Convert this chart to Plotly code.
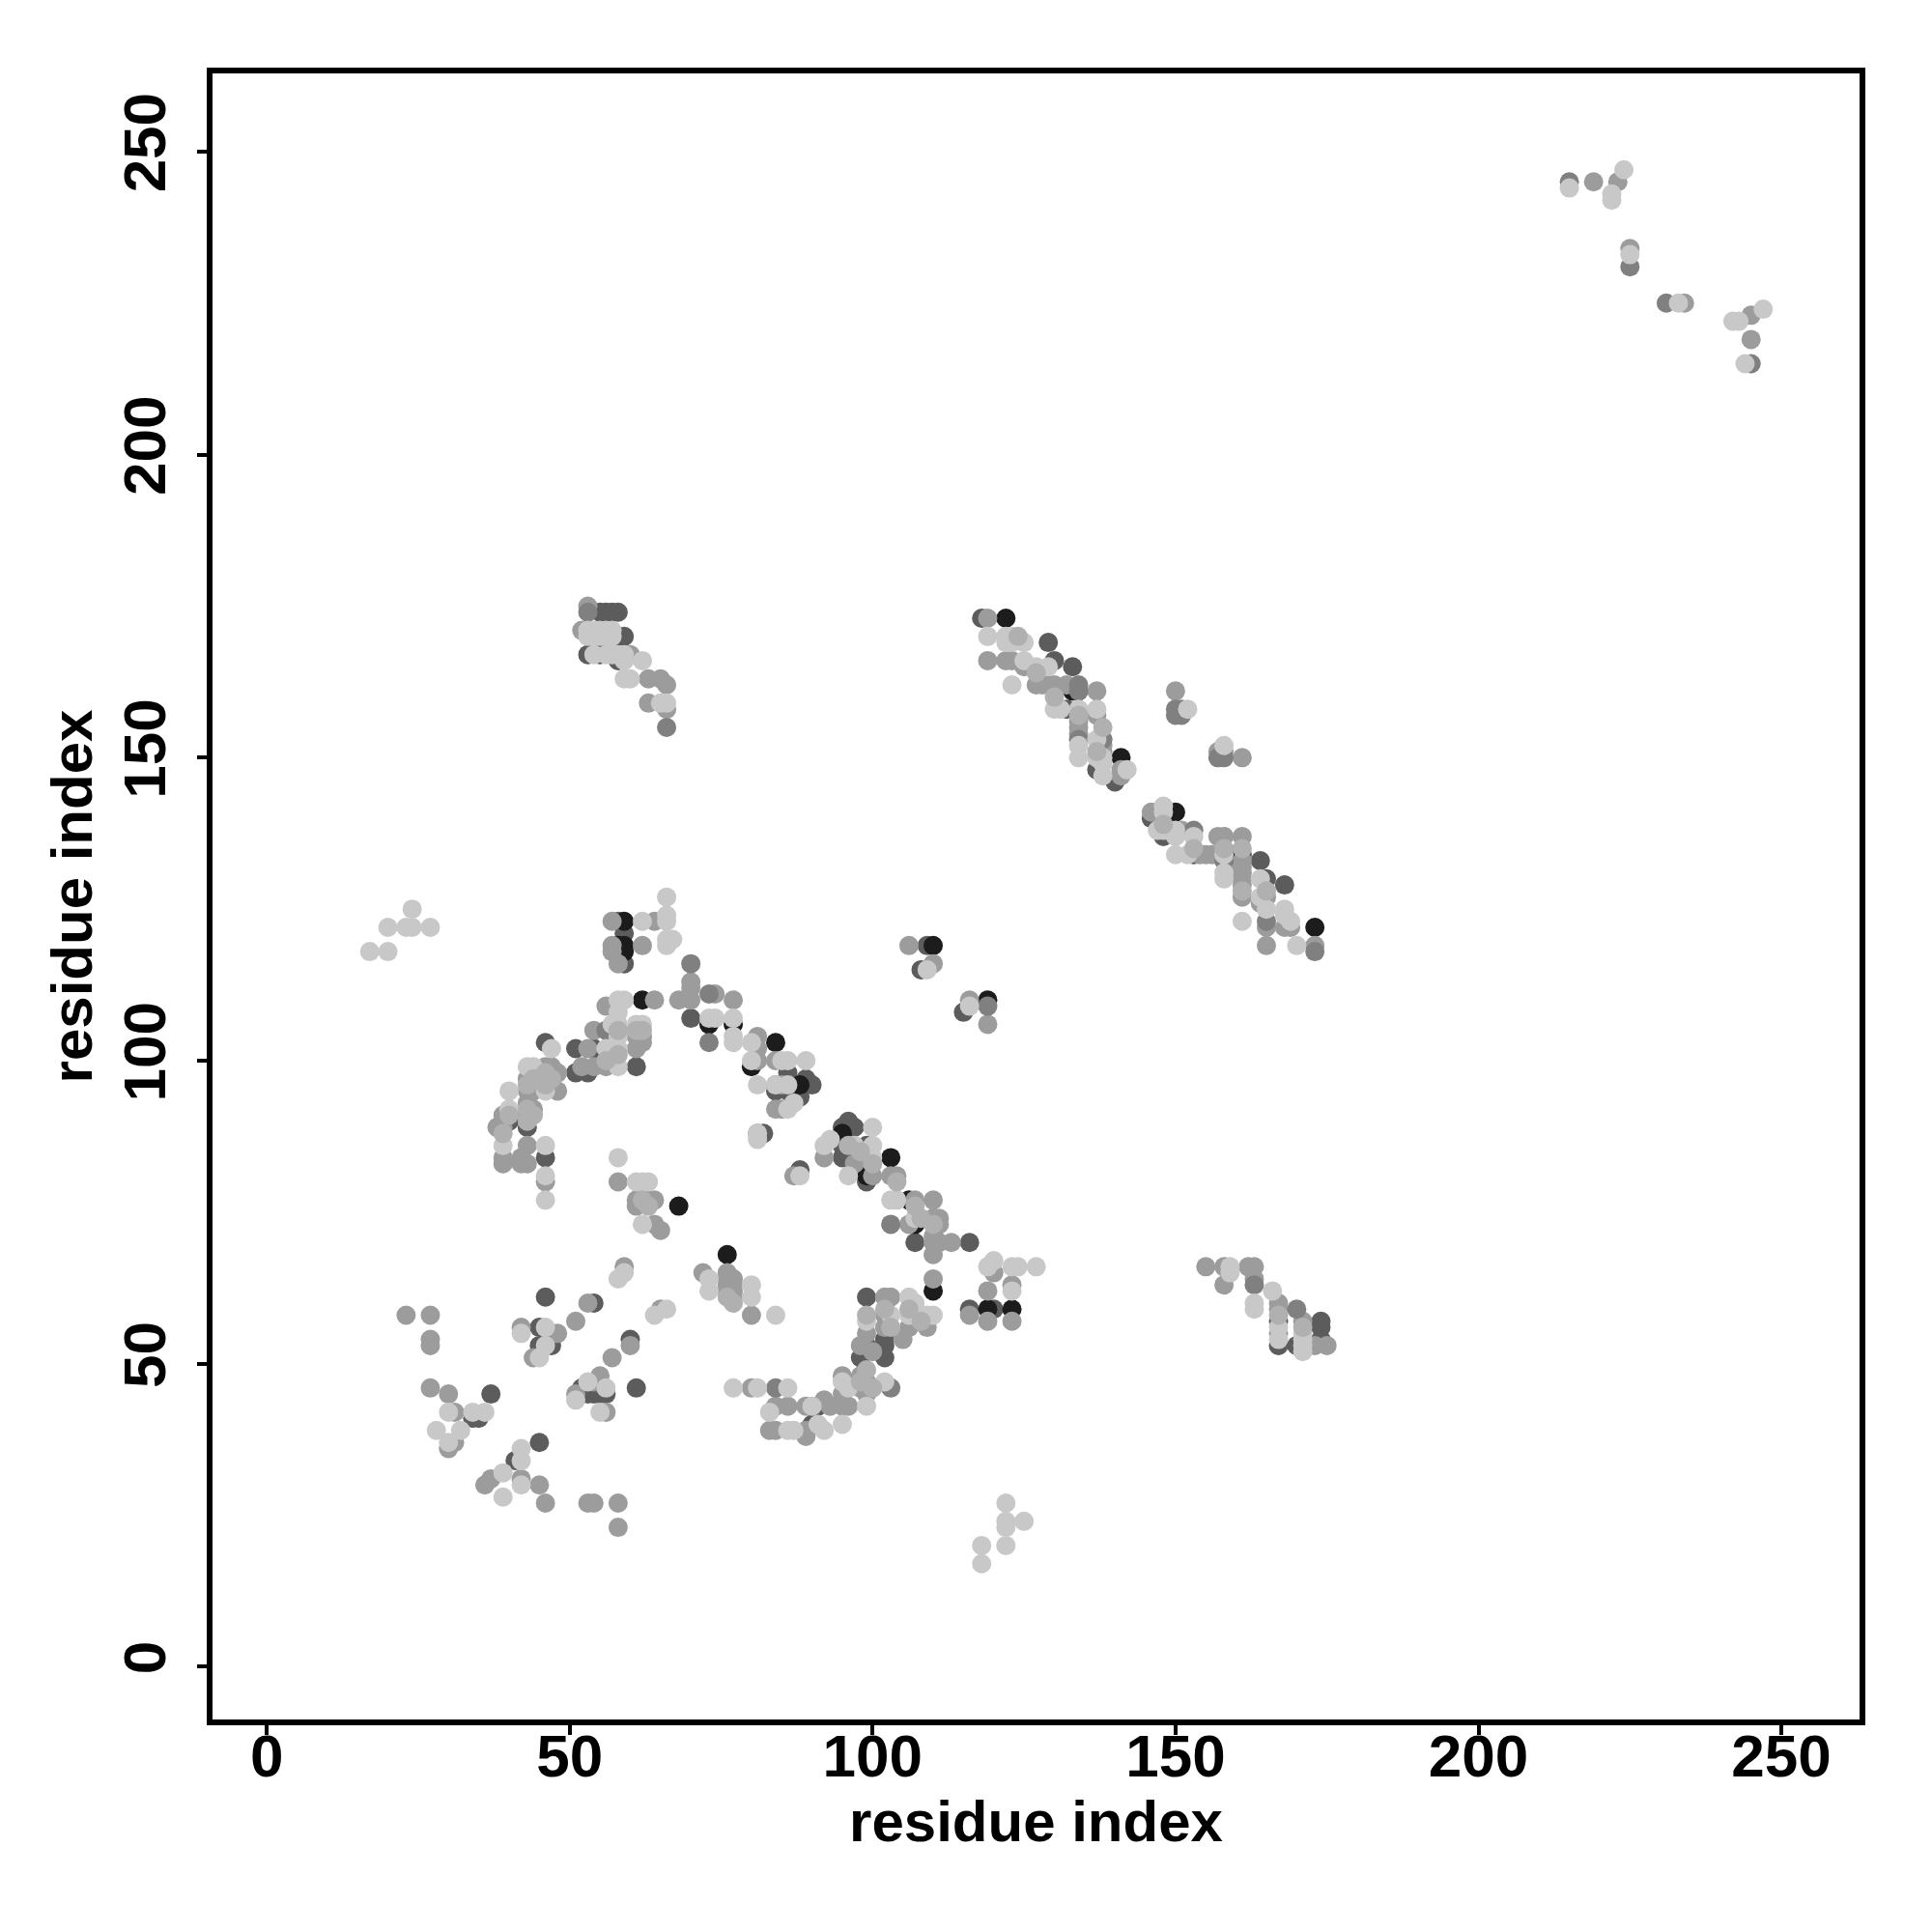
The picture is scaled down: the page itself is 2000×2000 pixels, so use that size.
import plotly.graph_objects as go

tick_values = [0, 50, 100, 150, 200, 250]

points_mid_low = [
(23,58),(27,58),(27,54),(27,53),(27,46),(30,45),(31,42),(30,36),(31,37),(36,30),(37,31),(42,31),(45,30),(46,27),(53,27),(54,27),(58,27),(58,23),
(42,56),(51,57),(53,60),(44,51),(48,55),(47,55),(57,51),(60,53),(65,59),(59,66),(51,45),(54,47),(55,48),(56,42),
(72,65),(76,65),(76,64),(76,63),(76,62),(77,64),(77,63),(77,62),(77,61),(80,58),(80,46),(84,43),(86,43),(89,43),(92,44),(93,43),(95,43),(96,43),(83,39),(84,39),(89,39),(89,38),
(95,48),(98,48),(99,47),(98,46),(99,45),(95,45),(102,61),(103,61),(102,58),(102,56),(105,54),(106,56),(110,64),(109,56),(99,55),(100,52),(98,53),
(119,62),(116,58),(119,57),(123,57),(123,63),(120,65),(155,66),(158,66),(158,63),(162,66),(163,66),(163,64),(167,60),(167,59),(167,55),(171,57),(175,53),(173,53),
(58,80),(61,77),(62,77),(63,77),(64,77),(61,76),(64,73),(65,72),
(103,81),(104,81),(107,77),(110,77),(106,73),(110,74),(111,74),(111,73),(110,71),(110,70),(111,70),(113,70),(110,68),(92,84),(97,83),(100,81),(87,81),
(81,104),(81,102),(81,100),(84,100),(85,96),(84,92),(85,92),(70,113),(70,112),(68,110),(70,110),(74,111),(77,110),
(54,105),(52,99),(54,99),(56,99),(53,102),(61,102),(62,103),(56,109),(64,110),(61,104),(62,104),(57,123),(64,123),(62,119),(57,119),(57,118),(58,116),
(46,99),(47,99),(48,98),(43,95),(44,95),(48,95),(43,97),(43,93),(44,92),(43,91),(43,86),(43,83),(42,83),(42,84),(46,80),(39,91),(38,89),(39,89),(39,84),(39,83),
(106,119),(110,116),(116,110),(119,106),
(119,173),(122,166),(123,166),(119,166),(125,165),(127,162),(128,162),(129,162),(130,162),(130,161),(132,162),(137,161),(137,157),(134,156),(134,155),(134,154),(138,152),(138,151),(141,148),(141,147),
(150,161),(157,151),(158,151),(161,150),(146,141),(147,141),(151,138),(157,137),(158,137),(161,137),(154,134),(155,134),(156,134),(161,133),(161,132),(161,131),(161,130),(161,129),(161,127),(160,131),
(164,126),(165,127),(165,122),(165,119),(168,122),(169,122),(173,119),
(53,175),(52,171),(63,163),(65,163),(66,162),(63,159),(66,158),(60,167),
(219,245),(223,245),(225,234),(234,225),(245,223),(245,219),
]

points_mid_dark = [
(225,231),(231,225),(245,215),(215,245),(66,155),(53,174),(73,111),(70,116),(84,96),(81,88),(103,73),(150,158),(150,157),(151,158),(151,157),(157,150),(158,150),
(134,153),(138,153),(153,138),(158,133),(165,123),(173,118),(163,63),(170,59),(56,105),(84,46),(103,46),(73,103),(119,109),(134,162),(134,161),
]

points_dark = [
(37,45),(34,41),(35,41),(45,37),(41,34),(46,61),(54,60),(45,56),(45,53),(47,53),(60,54),(52,46),(53,45),(54,45),(55,45),(56,45),(61,46),
(91,43),(90,40),(98,51),(99,53),(99,61),(102,54),(102,53),(102,51),(116,59),(120,59),(174,57),(174,56),(174,54),(170,53),(167,57),(167,53),
(95,89),(96,90),(97,89),(95,86),(95,84),(99,86),(99,80),(107,70),(116,70),(82,88),(88,82),(89,97),(90,96),(88,94),(86,98),(84,95),(86,95),
(51,102),(54,102),(51,98),(53,98),(61,99),(46,103),(43,89),(40,90),(46,84),(70,107),(59,121),(58,123),(59,116),(109,119),(108,115),(115,108),
(118,173),(130,166),(129,169),(133,165),(134,161),(132,158),(137,148),(140,146),(146,140),(148,137),(153,134),(160,134),(161,134),(164,133),(165,130),(168,129),
(53,167),(55,167),(58,166),(55,174),(56,174),(57,174),(58,174),(58,170),(59,170),
]

points_black = [
(76,68),(68,76),(110,62),(119,59),(123,59),(88,96),(95,88),(99,81),(103,84),(106,77),(107,73),(80,99),(84,103),(73,106),(77,106),(62,110),
(59,123),(59,119),(58,119),(59,118),(58,118),(110,119),(119,110),(122,173),(133,161),(141,150),(150,141),(160,133),(173,122),
]

points_light = [
(28,39),(30,42),(34,42),(36,42),(32,39),(30,37),(42,36),(42,34),(39,32),(42,30),(39,28),(42,55),(46,56),(46,53),(45,51),
(64,58),(66,59),(58,64),(59,65),(51,44),(53,47),(56,46),(55,42),(73,62),(73,64),(80,63),(80,61),(84,58),(77,46),(81,46),(86,46),(83,42),(90,43),(99,43),(86,39),(87,39),(91,40),(92,39),(95,40),
(95,47),(96,46),(102,47),(99,57),(103,58),(106,58),(107,60),(106,61),(109,58),(110,58),
(119,66),(120,67),(123,66),(124,66),(127,66),(123,62),(122,27),(122,24),(122,23),(125,24),(118,20),(122,20),(118,17),
(159,66),(159,65),(163,60),(163,59),(166,62),(171,55),(171,54),(171,53),(171,52),(167,56),(167,54),
(58,84),(61,80),(62,80),(63,80),(62,73),(103,77),(104,77),(107,74),(100,89),(92,86),(93,87),(97,86),(96,81),(100,86),(100,84),(88,81),
(80,103),(80,100),(81,96),(85,100),(86,100),(89,100),(84,96),(86,96),(86,92),(87,93),(81,87),(81,88),(73,107),(74,107),(77,107),(77,103),(77,104),
(56,102),(58,102),(58,99),(57,106),(58,106),(61,106),(62,106),(58,110),(59,110),(58,108),(58,104),(47,102),(43,99),(44,99),(46,95),(40,95),(40,92),(39,86),(46,86),(46,81),(46,77),
(62,123),(66,123),(66,124),(66,127),(66,119),(67,120),(66,120),
(17,118),(20,118),(20,122),(23,122),(24,122),(24,125),(27,122),(109,115),(116,109),
(119,170),(122,170),(123,170),(122,169),(123,169),(125,169),(125,166),(127,165),(129,165),(123,162),(130,158),(131,158),(134,158),(137,158),(134,152),(134,150),(137,153),(137,150),(138,150),(138,149),(138,147),(142,148),(152,158),(158,152),
(148,142),(148,141),(147,138),(148,138),(149,138),(150,138),(150,137),(153,137),(150,134),(152,134),(158,134),(158,131),(158,130),(164,130),(164,127),(165,125),(161,123),(168,125),(168,124),(169,123),(170,119),
(53,171),(54,171),(55,171),(56,171),(57,171),(53,170),(54,170),(55,170),(56,170),(57,170),(54,167),(56,167),(57,167),(58,167),(59,167),(59,166),(62,166),(59,163),(60,163),(65,159),(66,159),
(215,244),(224,247),(222,243),(222,242),(225,233),(233,225),(242,222),(243,222),(247,224),(244,215),
]

points_pale_top = [
(43,96),(44,97),(46,98),(47,97),(43,92),(44,91),(40,91),(39,88),(43,90),(46,96),(56,100),(58,101),(61,105),(62,105),(58,105),
(62,77),(63,76),(96,86),(98,85),(100,83),(104,80),(107,76),(108,74),(110,73),(134,157),(138,155),(137,151),(161,135),(161,128),(165,128),(167,58),(171,56),
(99,49),(98,47),(100,46),(103,56),(102,59),(106,59),(108,57),(99,58),(124,170),(127,164),(130,160),(158,135),(153,135),(148,139),(76,61),(77,60),
]

fig = go.Figure()
layers = [
    (points_dark, "#5c5c5c"),
    (points_black, "#1c1c1c"),
    (points_mid_low, "#9c9c9c"),
    (points_mid_dark, "#808080"),
    (points_light, "#c8c8c8"),
    (points_pale_top, "#b0b0b0"),
]
for pts, col in layers:
    fig.add_trace(go.Scatter(
        x=[p[0] for p in pts], y=[p[1] for p in pts], mode="markers",
        marker=dict(size=20, color=col, line=dict(width=0)), showlegend=False, hoverinfo="skip"))

font_ticks = dict(family="Liberation Sans", size=62, color="black")
title_font = dict(family="Liberation Sans", size=60, color="black")
axis = dict(
    tickvals=tick_values, ticktext=[f"<b>{v}</b>" for v in tick_values],
    ticks="outside", ticklen=10, tickwidth=4, tickcolor="black",
    tickfont=font_ticks, showgrid=False, zeroline=False,
    showline=True, linecolor="black", linewidth=5.5, mirror=True,
)
fig.update_layout(
    width=2000, height=2000, autosize=False,
    paper_bgcolor="white", plot_bgcolor="white",
    margin=dict(l=212, r=83, t=68, b=228),
    xaxis=dict(range=[-8.95, 262.9], ticklabelstandoff=-31,
               title=dict(text="<b>residue index</b>", font=title_font, standoff=8), **axis),
    yaxis=dict(range=[-8.7, 262.9], tickangle=-90, ticklabelstandoff=8,
               title=dict(text="<b>residue index</b>", font=title_font, standoff=2), **axis),
)
fig.write_html("out.html")
